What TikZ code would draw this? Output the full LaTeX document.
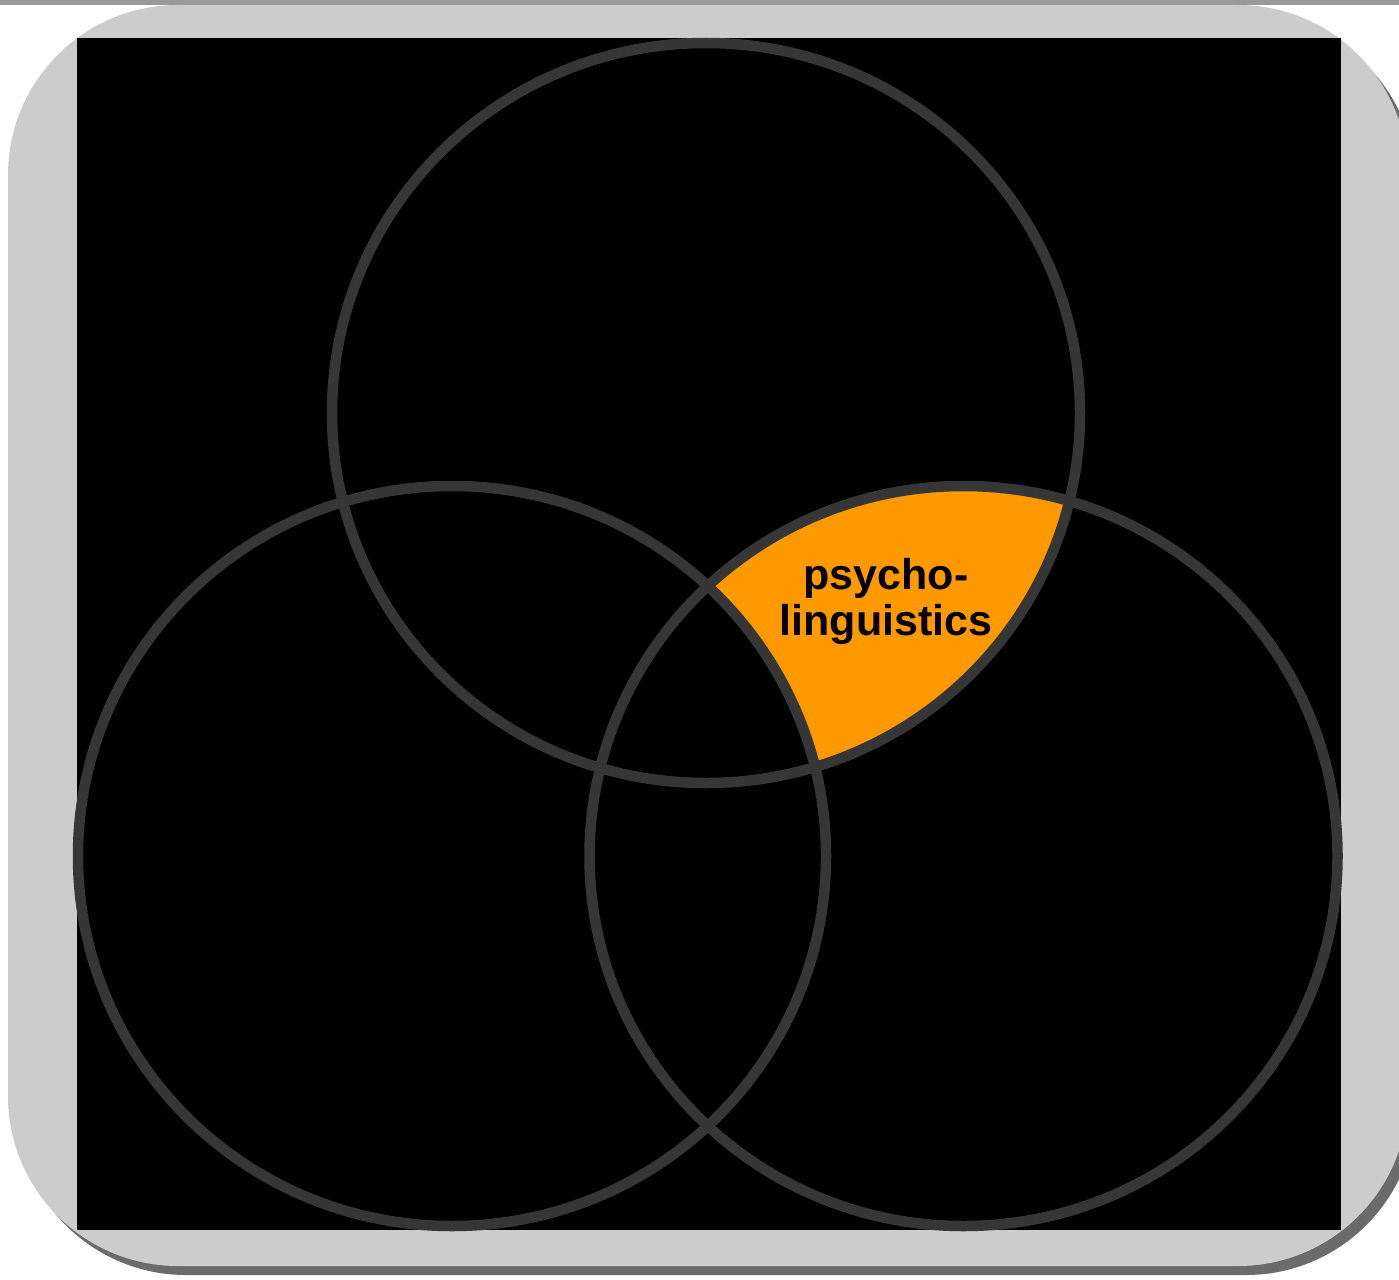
\documentclass[tikz,border=0pt]{standalone}
\usepackage{fontspec}
\setmainfont{Liberation Sans}
\usetikzlibrary{positioning}
\definecolor{cardgray}{HTML}{CCCCCC}
\definecolor{shadowgray}{HTML}{6B6B6B}
\definecolor{rulegray}{HTML}{999999}
\definecolor{ringgray}{HTML}{363636}
\definecolor{amber}{HTML}{FF9900}

\begin{document}
\begin{tikzpicture}[x=1pt,y=-1pt,
    venn/.style={draw=ringgray,line width=10.5pt},
    disc/.style={x radius=374pt,y radius=370pt}]
    \useasboundingbox (0,0) rectangle (1399,1279);
    \fill[white] (0,0) rectangle (1399,1279);
    % Page rule, then the rounded card with its drop shadow.
    \fill[rulegray] (0,0) rectangle (1399,5);
    \fill[shadowgray,rounded corners=170pt] (16,15) rectangle (1416,1275);
    \fill[cardgray,rounded corners=170pt] (8,5) rectangle (1408,1266);
    \fill[black] (77,38) rectangle (1341,1230);

    % Highlighted region: inside top and right, outside left.
    \begin{scope}
      \clip (706,413) circle[disc];
      \clip (963.5,856) circle[disc];
      \fill[amber] (77,38) rectangle (1341,1230);
      \fill[black] (452,856) circle[disc];
    \end{scope}

    \foreach \cx/\cy in {706/413,452/856,963.5/856}
      \draw[venn] (\cx,\cy) circle[disc];

    \node[font=\bfseries\fontsize{43}{46}\selectfont,align=center,inner sep=0pt]
      (psy) at (886,601) {psycho-\\linguistics};
\end{tikzpicture}
\end{document}
